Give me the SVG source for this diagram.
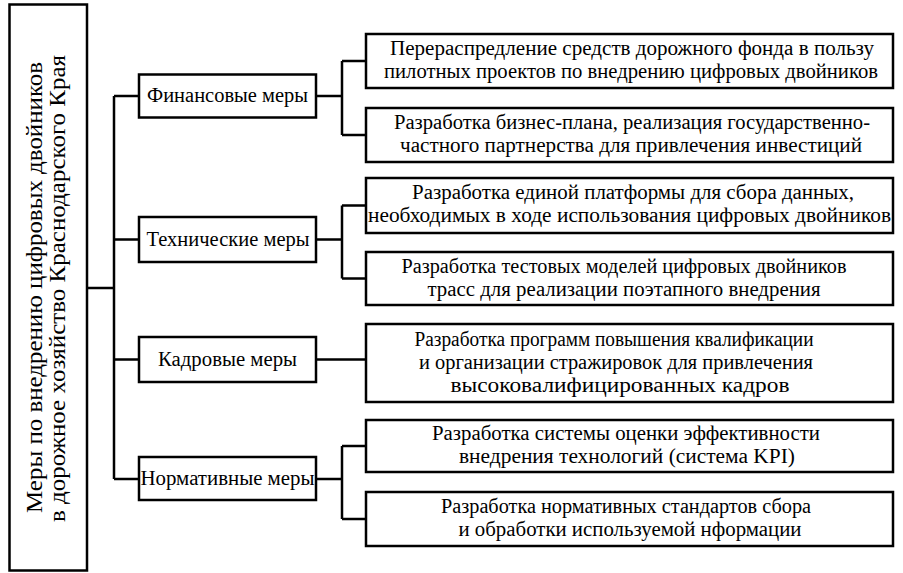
<svg xmlns="http://www.w3.org/2000/svg" width="903" height="573" viewBox="0 0 903 573">
<style>
.box{fill:#fff;stroke:#000;stroke-width:2.5}
.ln{fill:none;stroke:#000;stroke-width:2.5}
text{fill:#000;text-anchor:middle}
.cat{font-size:20px}
.it{font-size:20px}
.main{font-size:24px}
</style>
<rect x="0" y="0" width="903" height="573" fill="#fff"/>
<g id="connectors">
<path class="ln" d="M88 288H114M114 96V479M114 96H139M114 239.5H139M114 359.5H139M114 479H139"/>
<path class="ln" d="M316 96H342M342 61V135M342 61H366M342 135H366"/>
<path class="ln" d="M316 239.5H342M342 205.5V278.5M342 205.5H366M342 278.5H366"/>
<path class="ln" d="M316 359.5H366"/>
<path class="ln" d="M316 479H342M342 446V519M342 446H366M342 519H366"/>
</g>
<g id="root" font-family="Liberation Serif, Tinos, Noto Serif, DejaVu Serif, FreeSerif, Times New Roman, Times, serif">
<rect class="box" x="9.5" y="4.5" width="77.5" height="566"/>
<text class="main" transform="translate(41.5,287.5) rotate(-90)" textLength="451" lengthAdjust="spacingAndGlyphs">Меры по внедрению цифровых двойников</text>
<text class="main" transform="translate(65,288.5) rotate(-90)" textLength="467" lengthAdjust="spacingAndGlyphs">в дорожное хозяйство Краснодарского Края</text>
</g>
<g id="cat-fin" font-family="Liberation Serif, Tinos, Noto Serif, DejaVu Serif, FreeSerif, Times New Roman, Times, serif">
<rect class="box" x="139" y="74.5" width="177" height="43"/>
<text class="cat" x="227.5" y="102" textLength="161" lengthAdjust="spacingAndGlyphs">Финансовые меры</text>
</g>
<g id="cat-tech" font-family="Liberation Serif, Tinos, Noto Serif, DejaVu Serif, FreeSerif, Times New Roman, Times, serif">
<rect class="box" x="139" y="217" width="177" height="45"/>
<text class="cat" x="228" y="245.5" textLength="163" lengthAdjust="spacingAndGlyphs">Технические меры</text>
</g>
<g id="cat-hr" font-family="Liberation Serif, Tinos, Noto Serif, DejaVu Serif, FreeSerif, Times New Roman, Times, serif">
<rect class="box" x="139" y="337" width="177" height="45"/>
<text class="cat" x="227.5" y="365.5" textLength="139" lengthAdjust="spacingAndGlyphs">Кадровые меры</text>
</g>
<g id="cat-norm" font-family="Liberation Serif, Tinos, Noto Serif, DejaVu Serif, FreeSerif, Times New Roman, Times, serif">
<rect class="box" x="139" y="457" width="177" height="43"/>
<text class="cat" x="227.5" y="484.5" textLength="174" lengthAdjust="spacingAndGlyphs">Нормативные меры</text>
</g>
<g id="m1" font-family="Liberation Serif, Tinos, Noto Serif, DejaVu Serif, FreeSerif, Times New Roman, Times, serif">
<rect class="box" x="366" y="34" width="527" height="54"/>
<text class="it" x="632" y="54.5" textLength="484" lengthAdjust="spacingAndGlyphs">Перераспредление средств дорожного фонда в пользу</text>
<text class="it" x="631" y="77.5" textLength="494" lengthAdjust="spacingAndGlyphs">пилотных проектов по внедрению цифровых двойников</text>
</g>
<g id="m2" font-family="Liberation Serif, Tinos, Noto Serif, DejaVu Serif, FreeSerif, Times New Roman, Times, serif">
<rect class="box" x="366" y="108" width="527" height="54"/>
<text class="it" x="632" y="128.5" textLength="476" lengthAdjust="spacingAndGlyphs">Разработка бизнес-плана, реализация государственно-</text>
<text class="it" x="631" y="151.5" textLength="462" lengthAdjust="spacingAndGlyphs">частного партнерства для привлечения инвестиций</text>
</g>
<g id="m3" font-family="Liberation Serif, Tinos, Noto Serif, DejaVu Serif, FreeSerif, Times New Roman, Times, serif">
<rect class="box" x="366" y="178" width="527" height="55"/>
<text class="it" x="633" y="199" textLength="442" lengthAdjust="spacingAndGlyphs">Разработка единой платформы для сбора данных,</text>
<text class="it" x="629.5" y="222" textLength="523" lengthAdjust="spacingAndGlyphs">необходимых в ходе использования цифровых двойников</text>
</g>
<g id="m4" font-family="Liberation Serif, Tinos, Noto Serif, DejaVu Serif, FreeSerif, Times New Roman, Times, serif">
<rect class="box" x="366" y="252" width="527" height="53"/>
<text class="it" x="624" y="272.5" textLength="445" lengthAdjust="spacingAndGlyphs">Разработка тестовых моделей цифровых двойников</text>
<text class="it" x="624" y="295.5" textLength="393" lengthAdjust="spacingAndGlyphs">трасс для реализации поэтапного внедрения</text>
</g>
<g id="m5" font-family="Liberation Serif, Tinos, Noto Serif, DejaVu Serif, FreeSerif, Times New Roman, Times, serif">
<rect class="box" x="366" y="324" width="527" height="78"/>
<text class="it" x="614" y="346" textLength="399" lengthAdjust="spacingAndGlyphs">Разработка программ повышения квалификации</text>
<text class="it" x="616" y="369" textLength="394" lengthAdjust="spacingAndGlyphs">и организации стражировок для привлечения</text>
<text class="it" x="620" y="392" textLength="339" lengthAdjust="spacingAndGlyphs">высоковалифицированных кадров</text>
</g>
<g id="m6" font-family="Liberation Serif, Tinos, Noto Serif, DejaVu Serif, FreeSerif, Times New Roman, Times, serif">
<rect class="box" x="366" y="420" width="527" height="52"/>
<text class="it" x="626" y="440" textLength="388" lengthAdjust="spacingAndGlyphs">Разработка системы оценки эффективности</text>
<text class="it" x="627" y="463" textLength="336" lengthAdjust="spacingAndGlyphs">внедрения технологий (система KPI)</text>
</g>
<g id="m7" font-family="Liberation Serif, Tinos, Noto Serif, DejaVu Serif, FreeSerif, Times New Roman, Times, serif">
<rect class="box" x="366" y="492" width="527" height="54"/>
<text class="it" x="626" y="513" textLength="370" lengthAdjust="spacingAndGlyphs">Разработка нормативных стандартов сбора</text>
<text class="it" x="630" y="536" textLength="343" lengthAdjust="spacingAndGlyphs">и обработки используемой нформации</text>
</g>
</svg>
